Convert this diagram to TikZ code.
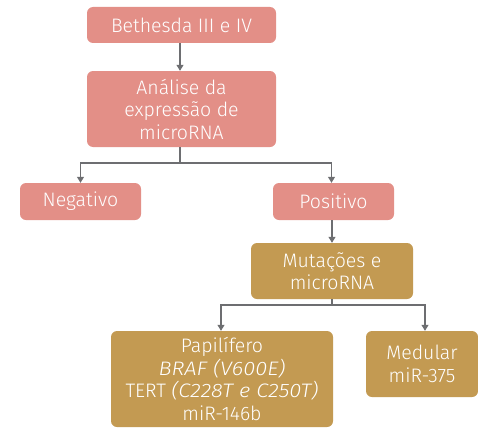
\documentclass[tikz,border=0pt]{standalone}
\usepackage{fontspec}
\setmainfont{Fira Sans Light}[ItalicFont={Fira Sans Light Italic},
  ItalicFeatures={FakeStretch=1.12}]
\usetikzlibrary{arrows.meta}
\definecolor{rosebox}{HTML}{E38F87}
\definecolor{goldbox}{HTML}{C39A52}
\definecolor{linkgrey}{HTML}{6D6E71}
\begin{document}
\begin{tikzpicture}[x=1pt,y=-1pt,
  box/.style={rounded corners=6pt, text=white, align=center, inner sep=0pt,
    font=\fontsize{19.5}{22.5}\selectfont},
  pinkbox/.style={box, fill=rosebox},
  goldbox/.style={box, fill=goldbox},
  link/.style={draw=linkgrey, line width=1.1pt},
  arrow/.style={link, -{Triangle[length=6pt,width=7pt]}}]
\useasboundingbox (0,0) rectangle (478,428);
\node[pinkbox, minimum width=189pt, minimum height=36pt] (beth) at (181.5,25) {Bethesda III e IV};
\node[pinkbox, minimum width=189pt, minimum height=76pt] (anal) at (181.5,109) {Análise da\\expressão de\\microRNA};
\node[pinkbox, minimum width=121pt, minimum height=37pt] (neg) at (80.5,201.5) {Negativo};
\node[pinkbox, minimum width=121pt, minimum height=37pt] (pos) at (333.5,201.5) {Positivo};
\node[goldbox, minimum width=162pt, minimum height=56pt] (mut) at (332,271) {Mutações e\\microRNA};
\node[goldbox, minimum width=222pt, minimum height=96pt] (pap) at (222,379) {Papilífero\\\textit{BRAF (V600E)}\\TERT \textit{(C228T e C250T)}\\miR-146b};
\node[goldbox, minimum width=112pt, minimum height=66pt] (med) at (422,364) {Medular\\miR-375};
\coordinate (j1) at (180,163);
\coordinate (j2) at (332,305);
\draw[arrow] (beth.south -| j1) -- (anal.north -| j1);
\draw[link] (anal.south -| j1) -- (j1);
\draw[arrow] (j1) -| (neg.north);
\draw[arrow] (j1) -| ([xshift=-2pt]pos.north);
\draw[arrow] (pos.south -| j2) -- (mut.north -| j2);
\draw[link] (mut.south -| j2) -- (j2);
\draw[arrow] (j2) -| ([xshift=-1pt]pap.north);
\draw[arrow] (j2) -| ([xshift=3pt]med.north);
\end{tikzpicture}
\end{document}
